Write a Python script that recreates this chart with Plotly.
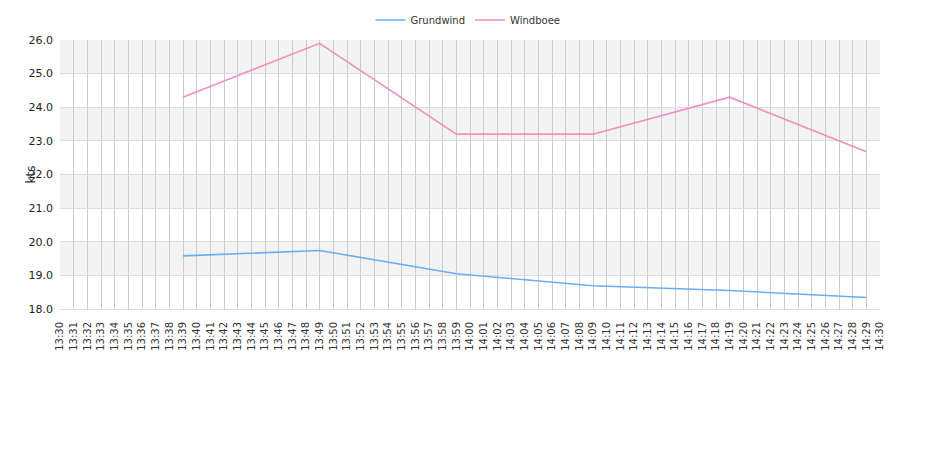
import plotly.graph_objects as go

categories = [f"{13 + (m // 60)}:{m % 60:02d}" for m in range(30, 91)]
times = ["13:39", "13:49", "13:59", "14:09", "14:19", "14:29"]
grundwind = [19.58, 19.74, 19.05, 18.69, 18.55, 18.34]
windboee = [24.3, 25.9, 23.2, 23.2, 24.3, 22.68]

fig = go.Figure()
fig.add_trace(go.Scatter(x=times, y=grundwind, name="Grundwind", mode="lines",
                         line=dict(color="#6aaef2", width=1.6)))
fig.add_trace(go.Scatter(x=times, y=windboee, name="Windboee", mode="lines",
                         line=dict(color="#f28ec2", width=1.6)))

shapes = []
for lo in [19, 21, 23, 25]:
    shapes.append(dict(type="rect", xref="paper", yref="y", x0=0, x1=1, y0=lo, y1=lo + 1,
                       fillcolor="#f3f3f3", line=dict(width=0), layer="below"))

fig.update_layout(
    width=940, height=450,
    margin=dict(l=52, r=68, t=32, b=149, autoexpand=False),
    paper_bgcolor="white", plot_bgcolor="white",
    font=dict(family="DejaVu Sans", size=11, color="#333"),
    shapes=shapes,
    showlegend=True,
    legend=dict(orientation="h", x=460 / 940, xanchor="center", xref="container",
                y=1 - 12 / 450, yanchor="middle", yref="container",
                font=dict(size=10, color="#333"), itemwidth=30),
    xaxis=dict(type="category", categoryorder="array", categoryarray=categories,
               range=[0, 60], tickangle=-90, showgrid=True, gridcolor="#cccccc",
               gridwidth=1, tickfont=dict(size=10, color="#333"), showline=True,
               linecolor="#dddddd", zeroline=False, ticks="", automargin=False,
               ticklabelstandoff=8),
    yaxis=dict(range=[18, 26], dtick=1, tickformat=".1f", showgrid=True,
               gridcolor="#dddddd", zeroline=False, tickfont=dict(size=11, color="#222"),
               ticks="", ticklen=0, automargin=False, ticklabelstandoff=6),
    annotations=[dict(text="kts", xref="paper", yref="paper", x=-30 / 820, y=0.5,
                      xanchor="center", yanchor="middle", textangle=-90, showarrow=False,
                      font=dict(size=12, color="#333"))],
)

fig.write_html("out.html")
